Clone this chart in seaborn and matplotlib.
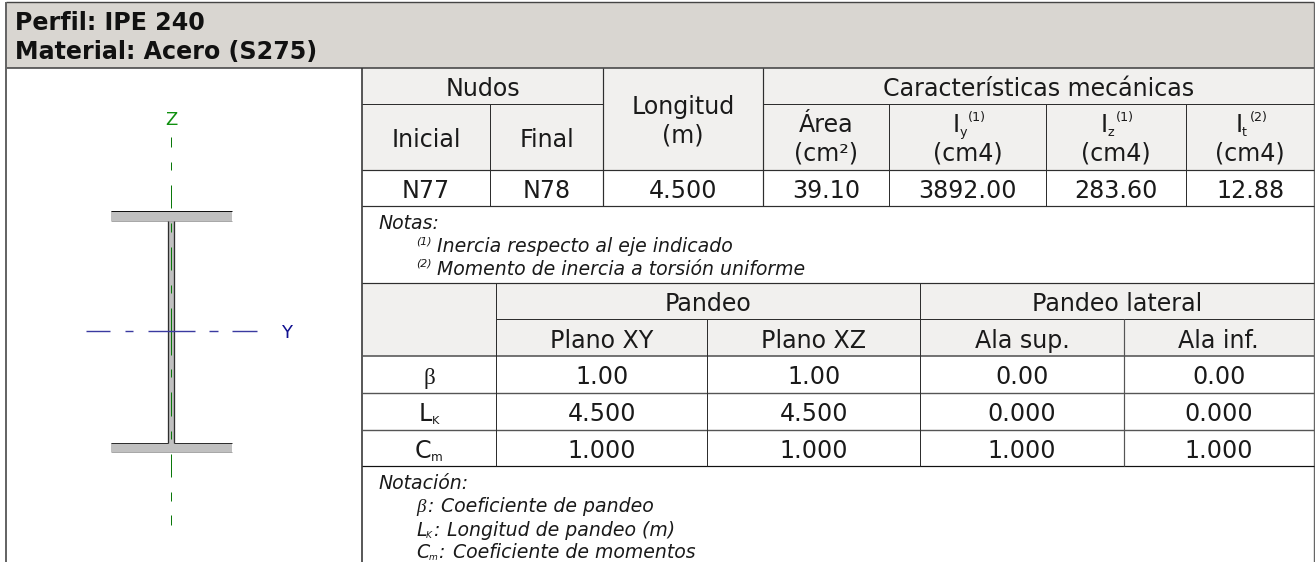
#cross section data sheet, drawn in pixel coordinates

import matplotlib
matplotlib.use('Agg')
import matplotlib.pyplot as plt
import seaborn as sns

#the data
title_lines = ['Perfil: IPE 240', 'Material: Acero (S275)']
nodes = ['N77', 'N78']
length = '4.500'
mech_values = ['39.10', '3892.00', '283.60', '12.88']
inertia_names = [('y', '(1)'), ('z', '(1)'), ('t', '(2)')]
notes = ['Inercia respecto al eje indicado', 'Momento de inercia a torsión uniforme']
note_marks = ['(1)', '(2)']
buckling_heads = ['Plano XY', 'Plano XZ', 'Ala sup.', 'Ala inf.']
beta_values = ['1.00', '1.00', '0.00', '0.00']
lk_values = ['4.500', '4.500', '0.000', '0.000']
cm_values = ['1.000', '1.000', '1.000', '1.000']

#colors and sizes
HEAD_BG = '#d9d6d1'
CELL_BG = '#f1f0ee'
LINE = '#2e2e2e'
TEXT = '#1a1a1a'
PX = 72 / 100
BIG = 23.7 * PX
SMALL = 18.9 * PX
TINY = 12.7 * PX

#table layout
t1_cols = [362, 490.3, 603.3, 763, 889.3, 1045.7, 1186.3, 1314]
t1_rows = [68, 104.3, 170, 206, 282.7]
t2_cols = [362, 496.3, 707.3, 920.3, 1123.7, 1314]
t2_rows = [282.7, 319.3, 356, 393, 429.7, 466.3]


def put(ax, x, y, s, size=BIG, ha='center', color=TEXT, **kw):
    ax.text(x, y, s, fontsize=size, ha=ha, va='baseline', color=color, **kw)


def fill(ax, x0, y0, x1, y1, color):
    ax.fill_between([x0, x1], y0, y1, color=color, lw=0, zorder=0)


def hline(ax, y, x0, x1, lw=1.0, color=LINE):
    ax.plot([x0, x1], [y, y], color=color, lw=lw * PX, solid_capstyle='butt', zorder=2)


def vline(ax, x, y0, y1, lw=1.0, color=LINE):
    ax.plot([x, x], [y0, y1], color=color, lw=lw * PX, solid_capstyle='butt', zorder=2)


def mid(cols, i):
    return (cols[i] + cols[i + 1]) / 2


def draw_section(ax):
    #flanges and web
    steel = '#c0c0c0'
    fill(ax, 111, 210.5, 231.7, 220.5, steel)
    fill(ax, 111, 442.5, 231.7, 451.7, steel)
    fill(ax, 168.5, 220.5, 174.5, 442.5, steel)
    hline(ax, 210.5, 111, 231.7, 1.0, '#111111')
    hline(ax, 442.5, 111, 168.5, 1.0)
    hline(ax, 442.5, 174.5, 231.7, 1.0)
    hline(ax, 220.5, 111, 231.7, 1.0, '#a8a8a8')
    hline(ax, 451.7, 111, 231.7, 1.0, '#a8a8a8')
    vline(ax, 168.5, 220.5, 442.5, 1.3)
    vline(ax, 174.5, 220.5, 442.5, 1.3)

    #centre lines
    z_dashes = [(137, 147), (162, 170), (185, 208), (223, 232), (247, 270), (285, 293),
                (308, 355), (369, 377), (392, 416), (431, 439), (454, 477), (492, 501), (515, 525)]
    y_dashes = [(86, 110), (125, 133), (148, 195), (209, 218), (232, 257)]
    for y0, y1 in z_dashes:
        vline(ax, 171.5, y0, y1, 1.0, '#0a780a')
    for x0, x1 in y_dashes:
        hline(ax, 331, x0, x1, 1.4, '#3a3aa0')
    put(ax, 171, 125, 'Z', 18 * PX, color='#109010')
    put(ax, 287, 338, 'Y', 18 * PX, color='#101090')


def draw_top_table(ax):
    fill(ax, t1_cols[0], t1_rows[0], t1_cols[-1], t1_rows[2], CELL_BG)
    for y in t1_rows[2:4]:
        hline(ax, y, t1_cols[0], t1_cols[-1], 1.2)
    hline(ax, t1_rows[1], t1_cols[0], t1_cols[2])
    hline(ax, t1_rows[1], t1_cols[3], t1_cols[-1])
    vline(ax, t1_cols[1], t1_rows[1], t1_rows[3])
    for x in t1_cols[2:4]:
        vline(ax, x, t1_rows[0], t1_rows[3], 1.2)
    for x in t1_cols[4:7]:
        vline(ax, x, t1_rows[1], t1_rows[3])

    put(ax, (t1_cols[0] + t1_cols[2]) / 2, 95.7, 'Nudos')
    put(ax, mid(t1_cols, 0), 146.7, 'Inicial')
    put(ax, mid(t1_cols, 1), 146.7, 'Final')
    put(ax, mid(t1_cols, 2), 114, 'Longitud')
    put(ax, mid(t1_cols, 2), 143, '(m)')
    put(ax, (t1_cols[3] + t1_cols[-1]) / 2, 95.7, 'Características mecánicas')
    put(ax, mid(t1_cols, 3), 132.5, 'Área')
    put(ax, mid(t1_cols, 3), 160, '(cm²)')
    for i, (sub, sup) in enumerate(inertia_names):
        c = mid(t1_cols, i + 4)
        put(ax, c - 15, 131.7, 'I', ha='left')
        put(ax, c - 8, 136, sub, TINY, ha='left')
        put(ax, c, 120.7, sup, TINY, ha='left')
        put(ax, c, 160, '(cm4)')

    #values row
    row = nodes + [length] + mech_values
    for i, val in enumerate(row):
        put(ax, mid(t1_cols, i), 197.7, val)

    put(ax, 378.3, 229, 'Notas:', SMALL, ha='left', style='oblique')
    for y, mark, note in zip([252, 275], note_marks, notes):
        put(ax, 416, y - 8, mark, 11 * PX, ha='left', style='oblique')
        put(ax, 437.5, y, note, SMALL, ha='left', style='oblique')


def draw_bottom_table(ax):
    fill(ax, t2_cols[0], t2_rows[0], t2_cols[-1], t2_rows[2], CELL_BG)
    hline(ax, t2_rows[0], t2_cols[0], t2_cols[-1], 1.2)
    hline(ax, t2_rows[1], t2_cols[1], t2_cols[-1])
    hline(ax, t2_rows[2], t2_cols[0], t2_cols[-1], 1.6, '#555555')
    hline(ax, t2_rows[3], t2_cols[0], t2_cols[-1], 1.4, '#555555')
    hline(ax, t2_rows[4], t2_cols[0], t2_cols[-1], 1.4, '#555555')
    hline(ax, t2_rows[5], t2_cols[0], t2_cols[-1], 1.2, '#111111')
    vline(ax, t2_cols[1], t2_rows[0], t2_rows[5])
    vline(ax, t2_cols[3], t2_rows[0], t2_rows[5])
    vline(ax, t2_cols[2], t2_rows[1], t2_rows[5])
    vline(ax, t2_cols[4], t2_rows[1], t2_rows[5], 1.2, '#555555')

    put(ax, (t2_cols[1] + t2_cols[3]) / 2, 311, 'Pandeo')
    put(ax, (t2_cols[3] + t2_cols[5]) / 2, 311, 'Pandeo lateral')
    for i, head in enumerate(buckling_heads):
        put(ax, mid(t2_cols, i + 1), 347.7, head)
    for i in range(4):
        put(ax, mid(t2_cols, i + 1), 384.3, beta_values[i])
        put(ax, mid(t2_cols, i + 1), 421, lk_values[i])
        put(ax, mid(t2_cols, i + 1), 458, cm_values[i])

    #row labels
    put(ax, 429, 384.3, 'β', family='Liberation Serif', size=23 * PX)
    put(ax, 419, 421, 'L', ha='left')
    put(ax, 432, 424, 'K', 11.3 * PX, ha='left')
    put(ax, 415, 458, 'C', ha='left')
    put(ax, 431, 461, 'm', 12 * PX, ha='left')

    #notation
    put(ax, 378.3, 489, 'Notación:', SMALL, ha='left', style='oblique')
    put(ax, 416, 512, 'β', SMALL, ha='left', style='italic', family='Liberation Serif')
    put(ax, 427, 512, ':', SMALL, ha='left', style='oblique')
    put(ax, 441.5, 512, 'Coeficiente de pandeo', SMALL, ha='left', style='oblique')
    put(ax, 416, 535.7, 'L', SMALL, ha='left', style='oblique')
    put(ax, 426, 538, 'K', 9 * PX, ha='left', style='oblique')
    put(ax, 433, 535.7, ':', SMALL, ha='left', style='oblique')
    put(ax, 447.5, 535.7, 'Longitud de pandeo (m)', SMALL, ha='left', style='oblique')
    put(ax, 416, 557.7, 'C', SMALL, ha='left', style='oblique')
    put(ax, 429, 560, 'm', 9 * PX, ha='left', style='oblique')
    put(ax, 438, 557.7, ':', SMALL, ha='left', style='oblique')
    put(ax, 453, 557.7, 'Coeficiente de momentos', SMALL, ha='left', style='oblique')


def main():
    sns.set_theme(style='white')
    plt.rcParams['font.family'] = ['DejaVu Sans']

    fig = plt.figure(figsize=(13.15, 5.62), dpi=100)
    ax = fig.add_axes([0, 0, 1, 1])
    ax.set_xlim(0, 1315)
    ax.set_ylim(562, 0)
    ax.axis('off')

    #header band and frame
    fill(ax, 6.5, 1.5, 1314, 67.5, HEAD_BG)
    hline(ax, 1.5, 6.5, 1314, 1.4, '#444444')
    hline(ax, 67.5, 6.5, 1314, 1.6, '#444444')
    vline(ax, 6.5, 1.5, 562, 2.0, '#666666')
    vline(ax, 362, 67.5, 562, 1.6, '#333333')
    vline(ax, 1314, 1.5, 562, 1.4, '#666666')
    for y, line in zip([30, 59], title_lines):
        put(ax, 15, y, line, BIG, ha='left', weight='bold', color='#111111')

    draw_section(ax)
    draw_top_table(ax)
    draw_bottom_table(ax)

    fig.savefig('out.png', dpi=100)


main()
